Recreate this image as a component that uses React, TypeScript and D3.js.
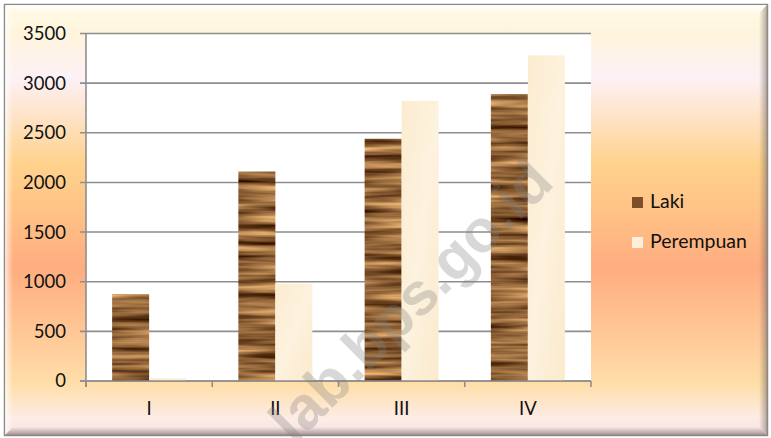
import React from "react";
import * as d3 from "d3";

const categories = ["I", "II", "III", "IV"];
const seriesNames = ["Laki", "Perempuan"];
const lakiValues = [875, 2110, 2440, 2890];
const perempuanValues = [30, 980, 2820, 3280];
const yTicks = [0, 500, 1000, 1500, 2000, 2500, 3000, 3500];

const W = 771;
const H = 438;
const plot = { left: 86, right: 591, top: 33.5, bottom: 381 };
const FONT = "Lato, 'Open Sans', sans-serif";
const GRID = "#8e8e8e";

export default function App() {
  const y = d3.scaleLinear().domain([0, 3500]).range([plot.bottom, plot.top]);
  const x0 = d3.scaleBand<string>().domain(categories).range([plot.left, plot.right]).paddingInner(0).paddingOuter(0);
  const x1 = d3.scaleBand<string>().domain(seriesNames).range([0, x0.bandwidth()]).paddingInner(0).paddingOuter(0.706);
  const values: Record<string, number[]> = { Laki: lakiValues, Perempuan: perempuanValues };
  const boundaries = categories.map((c) => x0(c) as number).concat([plot.right]);

  return (
    <svg width={W} height={H} style={{ position: "absolute", left: 0, top: 0 }} fontFamily={FONT}>
      <defs>
        <linearGradient id="bg" x1="0" y1="0" x2="0" y2="1">
          <stop offset="0" stopColor="#fffbe6" />
          <stop offset="0.07" stopColor="#fff4dc" />
          <stop offset="0.17" stopColor="#fdf1f6" />
          <stop offset="0.37" stopColor="#ffd28c" />
          <stop offset="0.48" stopColor="#ffc286" />
          <stop offset="0.61" stopColor="#ffad80" />
          <stop offset="0.76" stopColor="#ffc796" />
          <stop offset="0.88" stopColor="#ffdea8" />
          <stop offset="0.96" stopColor="#fdece6" />
          <stop offset="1" stopColor="#f7e3e3" />
        </linearGradient>
        <linearGradient id="cream" x1="0" y1="0" x2="1" y2="1">
          <stop offset="0" stopColor="#fcecd0" />
          <stop offset="0.5" stopColor="#fdf2de" />
          <stop offset="1" stopColor="#fbeacd" />
        </linearGradient>
        <filter id="wood" x="0" y="0" width="1" height="1" colorInterpolationFilters="sRGB">
          <feTurbulence type="fractalNoise" baseFrequency="0.008 0.13" numOctaves="3" seed="7" result="n" />
          <feColorMatrix in="n" type="matrix"
            values="1.25 0 0 0 -0.06  1.1 0 0 0 -0.16  0.8 0 0 0 -0.18  0 0 0 0 1" result="c" />
          <feComposite in="c" in2="SourceGraphic" operator="in" />
        </filter>
        <linearGradient id="bevTop" x1="0" y1="0" x2="0" y2="1">
          <stop offset="0" stopColor="#ffffff" stopOpacity="0.9" />
          <stop offset="1" stopColor="#ffffff" stopOpacity="0" />
        </linearGradient>
        <linearGradient id="bevRight" x1="1" y1="0" x2="0" y2="0">
          <stop offset="0" stopColor="#7a6a60" stopOpacity="0.55" />
          <stop offset="1" stopColor="#7a6a60" stopOpacity="0" />
        </linearGradient>
        <linearGradient id="bevBottom" x1="0" y1="1" x2="0" y2="0">
          <stop offset="0" stopColor="#6e6060" stopOpacity="0.6" />
          <stop offset="1" stopColor="#6e6060" stopOpacity="0" />
        </linearGradient>
        <linearGradient id="bevLeft" x1="0" y1="0" x2="1" y2="0">
          <stop offset="0" stopColor="#ffffff" stopOpacity="0.7" />
          <stop offset="1" stopColor="#ffffff" stopOpacity="0" />
        </linearGradient>
      </defs>

      <rect x={0} y={0} width={W} height={H} fill="#ffffff" />
      <rect x={4.5} y={4.5} width={763} height={431} fill="url(#bg)" stroke="#8a8a8a" strokeWidth={1.5} />
      <polygon points="5,5 767,5 759,13 13,13" fill="url(#bevTop)" />
      <polygon points="5,5 13,13 13,427 5,435" fill="url(#bevLeft)" />
      <polygon points="767,5 767,435 759,427 759,13" fill="url(#bevRight)" />
      <polygon points="5,435 13,427 759,427 767,435" fill="url(#bevBottom)" />

      <rect x={plot.left} y={plot.top} width={plot.right - plot.left} height={plot.bottom - plot.top} fill="#ffffff" />

      {yTicks.map((t) => (
        <g key={t}>
          <line x1={plot.left - 6} x2={plot.right} y1={y(t)} y2={y(t)} stroke={GRID} strokeWidth={1.6} />
          <text x={66} y={y(t)} dy="0.35em" textAnchor="end" fontSize={18.5} fill="#111">
            {t}
          </text>
        </g>
      ))}

      {categories.map((c, i) =>
        seriesNames.map((s) => {
          const v = values[s][i];
          const bx = (x0(c) as number) + (x1(s) as number);
          return (
            <rect
              key={c + s}
              x={bx}
              y={y(v)}
              width={x1.bandwidth()}
              height={y(0) - y(v)}
              fill={s === "Laki" ? "#8a5a30" : "url(#cream)"}
              filter={s === "Laki" ? "url(#wood)" : undefined}
            />
          );
        })
      )}

      <line x1={plot.left} x2={plot.left} y1={plot.top} y2={plot.bottom + 6} stroke={GRID} strokeWidth={1.6} />
      <line x1={plot.left - 6} x2={plot.right} y1={plot.bottom} y2={plot.bottom} stroke={GRID} strokeWidth={1.6} />
      {boundaries.map((bx, i) => (
        <line key={i} x1={bx} x2={bx} y1={plot.bottom} y2={plot.bottom + 6} stroke={GRID} strokeWidth={1.6} />
      ))}
      {categories.map((c) => (
        <text key={c} x={(x0(c) as number) + x0.bandwidth() / 2} y={415} textAnchor="middle" fontSize={18.5} fill="#111">
          {c}
        </text>
      ))}

      {seriesNames.map((s, i) => (
        <g key={s} transform={`translate(632, ${197 + i * 40})`}>
          <rect x={0} y={0} width={11} height={11} fill={s === "Laki" ? "#7e4e28" : "#fdf0da"} />
          <text x={18} y={11} fontSize={19.5} fill="#111">
            {s}
          </text>
        </g>
      ))}

      <text
        transform="translate(414,304) rotate(-45)"
        textAnchor="middle"
        dy="0.26em"
        fontSize={60}
        fontWeight="bold"
        fontFamily="'Liberation Sans', Arial, sans-serif"
        fill="#7f7f7f"
        fillOpacity={0.3}
      >
        lab.bps.go.id
      </text>
    </svg>
  );
}
